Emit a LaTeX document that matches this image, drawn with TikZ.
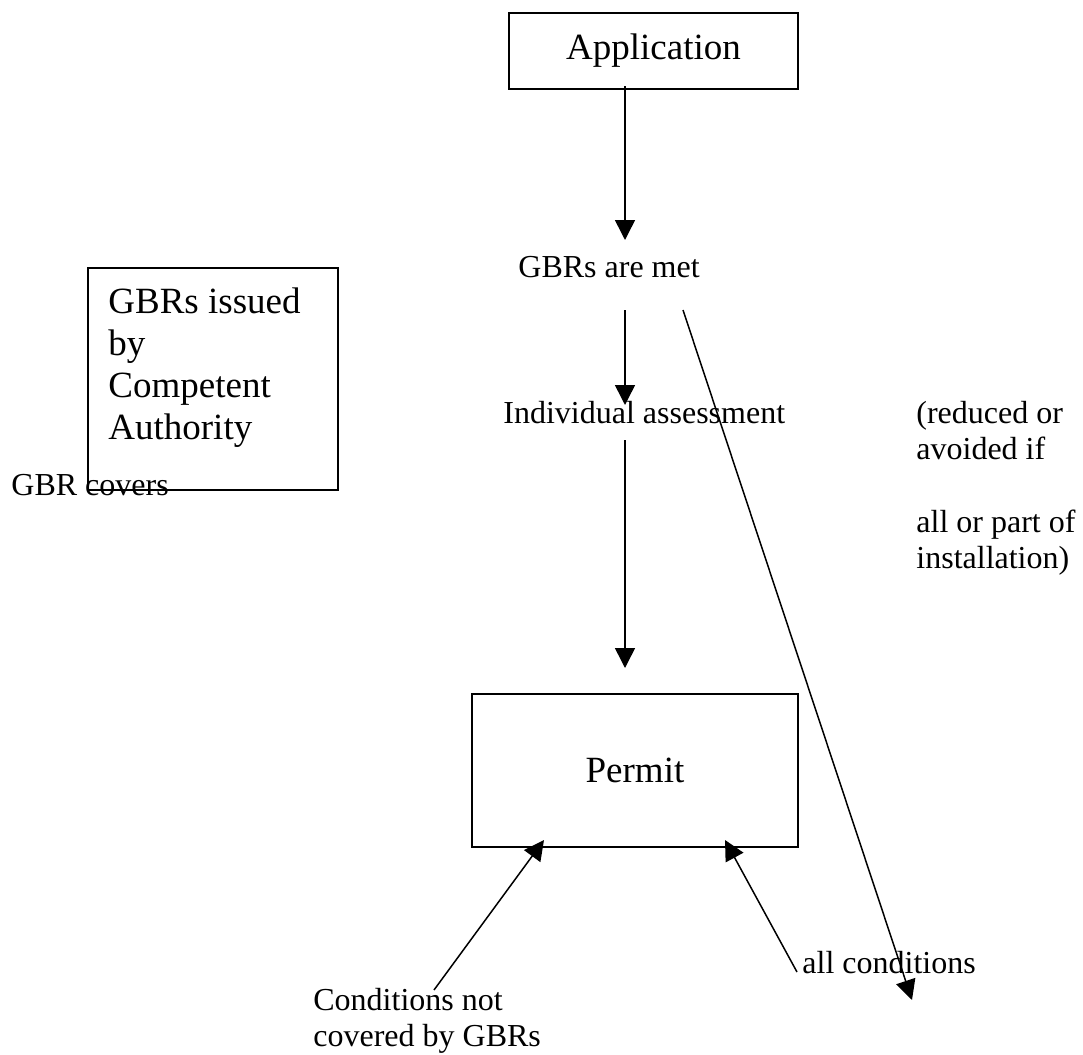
\documentclass[tikz,border=0pt]{standalone}
\usepackage{fontspec}
\setmainfont{Liberation Serif}
\usetikzlibrary{arrows.meta}
\tikzset{
  box/.style={draw, line width=1pt, inner sep=0pt},
  txt/.style={inner sep=0pt, anchor=base west, font=\fontsize{16}{19}\selectfont},
  bigtxt/.style={inner sep=0pt, anchor=base west, font=\fontsize{18.5}{22}\selectfont},
  arr/.style={line width=0.75pt, -{Triangle[length=10pt,width=10pt]}},
}
\begin{document}
\begin{tikzpicture}[x=0.5pt, y=-0.5pt]
\useasboundingbox (0,0) rectangle (1083,1055);
% boxes
\node[box, minimum width=144.5pt, minimum height=38pt, font=\fontsize{18.5}{22}\selectfont] (app) at (653.5,51) {Application};
\node[box, minimum width=163pt, minimum height=76.5pt, font=\fontsize{18.5}{22}\selectfont] (permit) at (635,770.5) {Permit};
\node[box, minimum width=125pt, minimum height=111pt] (gbrbox) at (213,379) {};
% text inside GBR box
\node[bigtxt] (g1) at (108,313) {GBRs issued};
\node[bigtxt] (g2) at (108,355) {by};
\node[bigtxt] (g3) at (108,397) {Competent};
\node[bigtxt] (g4) at (108,439) {Authority};
% labels
\node[txt] (met) at (518,277) {GBRs are met};
\node[txt] (ind) at (503,423) {Individual assessment};
\node[txt] (covers) at (11,495) {GBR covers};
\node[txt] (r1) at (916,423) {(reduced or};
\node[txt] (r2) at (916,459) {avoided if};
\node[txt] (r3) at (916,532) {all or part of};
\node[txt] (r4) at (916,568) {installation)};
\node[txt] (allc) at (802,973) {all conditions};
\node[txt] (c1) at (313,1010) {Conditions not};
\node[txt] (c2) at (313,1046) {covered by GBRs};
% connector end points
\coordinate (appS) at (625,86);
\coordinate (metN) at (625,240);
\coordinate (metS) at (625,310);
\coordinate (indN) at (625,405);
\coordinate (indS) at (625,440);
\coordinate (permN) at (625,668);
\coordinate (diagS) at (683,310);
\coordinate (diagE) at (912,1000);
\coordinate (condA) at (434,990);
\coordinate (permL) at (544,840);
\coordinate (allA) at (797,972);
\coordinate (permR) at (725,840);
% connectors
\draw[arr] (appS) -- (metN);
\draw[arr] (metS) -- (indN);
\draw[arr] (indS) -- (permN);
\draw[arr] (diagS) -- (diagE);
\draw[arr] (condA) -- (permL);
\draw[arr] (allA) -- (permR);
\end{tikzpicture}
\end{document}
